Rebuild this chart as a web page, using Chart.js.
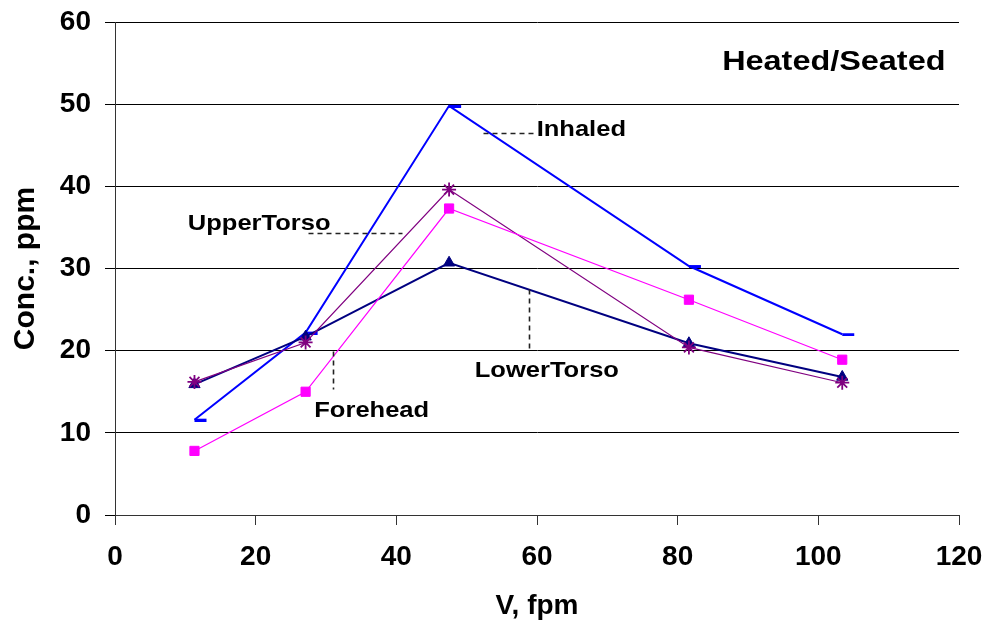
<!DOCTYPE html>
<html>
<head>
<meta charset="utf-8">
<script src="https://cdn.jsdelivr.net/npm/chart.js@4.4.1/dist/chart.umd.min.js"></script>
<style>
  html, body { margin: 0; padding: 0; background: #fff; }
  #wrap { width: 992px; height: 626px; }
</style>
</head>
<body>
<div id="wrap"><canvas id="concChart" width="992" height="626"></canvas></div>
<script>
// V, fpm (shared by all series)
const velocity   = [11.3, 27.1, 47.5, 81.6, 103.4];
// Conc., ppm
const inhaled    = [11.6, 22.2, 49.8, 30.3, 22.0];
const lowerTorso = [15.9, 21.7, 30.7, 20.9, 16.8];
const upperTorso = [16.2, 21.0, 39.6, 20.4, 16.1];
const forehead   = [7.8, 15.0, 37.3, 26.2, 18.9];

const xTicks = [0, 20, 40, 60, 80, 100, 120];
const yTicks = [0, 10, 20, 30, 40, 50, 60];

// callout labels and their dashed leaders, in data units
const noteText = ["Inhaled", "UpperTorso", "Forehead", "LowerTorso"];
const noteX    = [66.3, 20.5, 36.5, 61.4];
const noteY    = [46.9, 35.4, 12.7, 17.5];
const leaders  = [
  [52.3, 46.5, 59.7, 46.5],
  [27.4, 34.3, 40.8, 34.3],
  [31.0, 19.9, 31.0, 15.3],
  [58.9, 27.5, 58.9, 19.9]
];
const boxTitle = "Heated/Seated";
const boxTitleX = 102.2, boxTitleY = 55.1;

const FONT = "'Liberation Sans', Arial, sans-serif";

function pts(ys) {
  return velocity.map((v, i) => ({ x: v, y: ys[i] }));
}

// Excel style "-" marker, sits to the right of the point
function dashMarker(color) {
  const cv = document.createElement("canvas");
  cv.width = 26; cv.height = 4;
  const g = cv.getContext("2d");
  g.fillStyle = color;
  g.fillRect(13, 1, 12, 3);
  return cv;
}

function drawStretched(ctx, text, x, y, size, sx) {
  ctx.save();
  ctx.translate(x, y);
  ctx.scale(sx, 1);
  ctx.font = "bold " + size + "px " + FONT;
  ctx.fillText(text, 0, 0);
  ctx.restore();
}

const notesPlugin = {
  id: "notes",
  afterDatasetsDraw(c) {
    const ctx = c.ctx, xs = c.scales.x, ys = c.scales.y;
    ctx.save();
    ctx.strokeStyle = "#222";
    ctx.lineWidth = 1.6;
    ctx.setLineDash([5, 4]);
    leaders.forEach(l => {
      ctx.beginPath();
      ctx.moveTo(Math.round(xs.getPixelForValue(l[0])) + 0.5, Math.round(ys.getPixelForValue(l[1])) + 0.5);
      ctx.lineTo(Math.round(xs.getPixelForValue(l[2])) + 0.5, Math.round(ys.getPixelForValue(l[3])) + 0.5);
      ctx.stroke();
    });
    ctx.setLineDash([]);
    ctx.fillStyle = "#000";
    ctx.textAlign = "center";
    ctx.textBaseline = "middle";
    noteText.forEach((t, i) => {
      drawStretched(ctx, t, xs.getPixelForValue(noteX[i]), ys.getPixelForValue(noteY[i]), 22, 1.16);
    });
    drawStretched(ctx, boxTitle, xs.getPixelForValue(boxTitleX), ys.getPixelForValue(boxTitleY), 27, 1.2);
    ctx.restore();
  }
};

let chart;

function initChart() {
  Chart.defaults.font.family = FONT;
  Chart.defaults.color = "#000";

  chart = new Chart(document.getElementById("concChart"), {
    type: "line",
    data: {
      datasets: [
        {
          label: "Inhaled",
          data: pts(inhaled),
          borderColor: "#0000FF",
          backgroundColor: "#0000FF",
          borderWidth: 2,
          pointStyle: dashMarker("#0000FF"),
          pointRadius: 6,
          order: 4
        },
        {
          label: "LowerTorso",
          data: pts(lowerTorso),
          borderColor: "#000080",
          backgroundColor: "#000080",
          borderWidth: 2,
          pointStyle: "triangle",
          pointRadius: 6.5,
          pointBorderWidth: 1,
          order: 3
        },
        {
          label: "UpperTorso",
          data: pts(upperTorso),
          borderColor: "#800080",
          backgroundColor: "#800080",
          borderWidth: 1.2,
          pointStyle: "star",
          pointRadius: 7,
          pointBorderWidth: 1.8,
          order: 2
        },
        {
          label: "Forehead",
          data: pts(forehead),
          borderColor: "#FF00FF",
          backgroundColor: "#FF00FF",
          borderWidth: 1.2,
          pointStyle: "rect",
          pointRadius: 6.5,
          pointBorderWidth: 1,
          order: 1
        }
      ]
    },
    options: {
      responsive: false,
      animation: false,
      devicePixelRatio: 1,
      layout: { padding: { top: 22, right: 33, left: 0, bottom: 0 } },
      plugins: {
        legend: { display: false },
        tooltip: { enabled: false }
      },
      elements: { line: { tension: 0 } },
      scales: {
        x: {
          type: "linear",
          min: 0,
          max: 120,
          afterBuildTicks: s => { s.ticks = xTicks.map(v => ({ value: v })); },
          afterFit: s => { s.height = 111; s.paddingLeft = 0; s.paddingRight = 0; },
          ticks: {
            font: { size: 28, weight: "bold" },
            color: "#000",
            padding: 15,
            maxRotation: 0
          },
          grid: {
            drawOnChartArea: false,
            drawTicks: true,
            tickLength: 10,
            color: "#333"
          },
          border: { display: true, color: "#333", width: 1 },
          title: {
            display: true,
            text: "V, fpm",
            font: { size: 28, weight: "bold" },
            color: "#000",
            padding: { top: 4, bottom: 3 }
          }
        },
        y: {
          min: 0,
          max: 60,
          afterBuildTicks: s => { s.ticks = yTicks.map(v => ({ value: v })); },
          afterFit: s => { s.width = 115; s.paddingTop = 0; s.paddingBottom = 0; },
          ticks: {
            font: { size: 28, weight: "bold" },
            color: "#000",
            padding: 14
          },
          grid: {
            color: "#000",
            lineWidth: 1,
            tickLength: 10
          },
          border: { display: true, color: "#333", width: 1 },
          title: {
            display: true,
            text: "Conc., ppm",
            font: { size: 30, weight: "bold" },
            color: "#000",
            padding: { top: 8, bottom: 4 }
          }
        }
      }
    },
    plugins: [notesPlugin]
  });
}

initChart();
</script>
</body>
</html>
